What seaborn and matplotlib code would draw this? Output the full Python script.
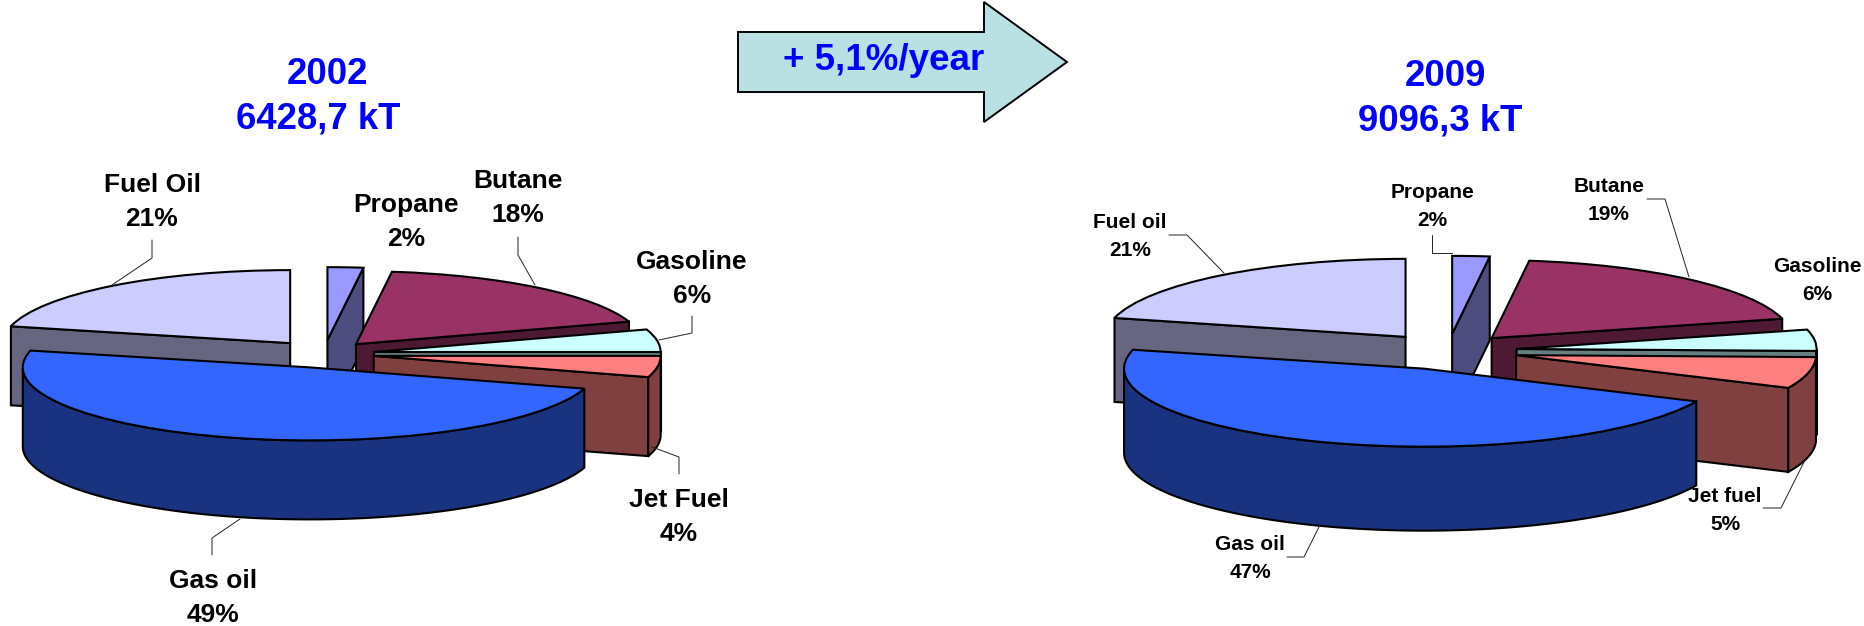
import numpy as np
import matplotlib
matplotlib.use("Agg")
import matplotlib.pyplot as plt
from matplotlib.patches import FancyArrow
import seaborn as sns

# slices, clockwise from 12 o'clock (sizes as drawn in the picture)
fuels = ["Propane", "Butane", "Gasoline", "Jet Fuel", "Gas oil", "Fuel Oil"]
shares_2002 = [2.0, 18.0, 5.0, 4.7, 49.0, 21.3]
shares_2009 = [2.0, 19.0, 4.4, 6.5, 47.0, 21.1]

# printed labels
pct_2002 = ["2%", "18%", "6%", "4%", "49%", "21%"]
pct_2009 = ["2%", "19%", "6%", "5%", "47%", "21%"]
names_2009 = ["Propane", "Butane", "Gasoline", "Jet fuel", "Gas oil", "Fuel oil"]

title_2002 = ["2002", "6428,7 kT"]
title_2009 = ["2009", "9096,3 kT"]
growth_text = "+ 5,1%/year"

top_colors = ["#9999FF", "#993366", "#CCFFFF", "#FF8080", "#3366FF", "#CCCCFF"]
side_colors = ["#4D4D80", "#4D1933", "#668080", "#804040", "#1A3380", "#666680"]

# painting order, back to front
draw_rank = [1, 2, 3, 4, 5, 0]

W, H = 1865, 626
BLUE = "#0000FF"

sns.set_theme(style="white")
plt.rcParams["font.family"] = ["Liberation Sans", "DejaVu Sans"]

fig = plt.figure(figsize=(W / 100, H / 100), dpi=100)


def pie_3d(shares, explode, cx, cy, a, b, depth):
    # axes where one data unit is a px across and b px up
    left, top = cx - 1.4 * a, cy - 1.4 * b
    height = 2.8 * b + depth
    ax = fig.add_axes([left / W, 1 - (top + height) / H, 2.8 * a / W, height / H])
    wedges, _ = ax.pie(
        shares,
        explode=explode,
        colors=sns.color_palette(top_colors),
        startangle=90,
        counterclock=False,
        wedgeprops={"edgecolor": "black", "linewidth": 1.5},
    )
    ax.set_aspect("auto")
    ax.set_xlim(-1.4, 1.4)
    ax.set_ylim(-1.4 - depth / b, 1.4)
    drop = depth / b

    for w, side, rank in zip(wedges, side_colors, draw_rank):
        w.set_zorder(2 * rank + 1)
        x0, y0 = w.center
        style = dict(facecolor=side, edgecolor="black", linewidth=1.5, zorder=2 * rank)

        # cut faces that look towards the viewer
        for theta, visible in [
            (w.theta1, np.cos(np.radians(w.theta1)) > 1e-6),
            (w.theta2, np.cos(np.radians(w.theta2)) < -1e-6),
        ]:
            if visible:
                xe = x0 + np.cos(np.radians(theta))
                ye = y0 + np.sin(np.radians(theta))
                ax.fill([x0, xe, xe, x0], [y0, ye, ye - drop, y0 - drop], **style)

        # outer rim, front half only
        t = np.radians(np.linspace(w.theta1, w.theta2, 200))
        t = t[np.sin(t) < 0]
        if len(t) > 1:
            xs = x0 + np.cos(t)
            ys = y0 + np.sin(t)
            ax.fill(
                np.r_[xs, xs[::-1]],
                np.r_[ys, ys[::-1] - drop],
                **style,
            )
    return ax


pie_3d(shares_2002, [0.19, 0.175, 0.175, 0.175, 0.19, 0.19], 324, 354, 287, 73, 79)
pie_3d(shares_2009, [0.22, 0.22, 0.23, 0.233, 0.24, 0.23], 1448, 351, 300, 78, 84)

# overlay in picture pixels for the text, leaders and the arrow
ov = fig.add_axes([0, 0, 1, 1], zorder=20)
ov.set_xlim(0, W)
ov.set_ylim(H, 0)
ov.axis("off")

ov.add_patch(
    FancyArrow(
        738, 62, 329, 0, width=60, head_width=120, head_length=83,
        length_includes_head=True, facecolor="#B9E0E3", edgecolor="black", linewidth=1.4,
    )
)
ov.text(884, 61, growth_text, color=BLUE, fontsize=26.5, fontweight="bold", ha="center", va="center")

# year and tonnage lines sit apart, the second one is off centre in the picture
title_style = dict(color=BLUE, fontsize=26.3, fontweight="bold", ha="center", va="baseline")
ov.text(328, 84, title_2002[0], **title_style)
ov.text(318, 129, title_2002[1], **title_style)
ov.text(1445, 86, title_2009[0], **title_style)
ov.text(1440.5, 131, title_2009[1], **title_style)

label_pos_2002 = [(406, 222), (518, 198), (692, 279), (679, 517), (213, 598), (152, 202)]
label_pos_2009 = [(1432, 206), (1609, 201), (1817, 281), (1725, 511), (1250, 558), (1130, 236)]

for name, pct, (x, y) in zip(fuels, pct_2002, label_pos_2002):
    ov.text(x, y, name + "\n" + pct, fontsize=19, fontweight="bold", color="black",
            ha="center", va="center", linespacing=1.55)
for name, pct, (x, y) in zip(names_2009, pct_2009, label_pos_2009):
    ov.text(x, y, name + "\n" + pct, fontsize=15, fontweight="bold", color="black",
            ha="center", va="center", linespacing=1.6)

leaders = [
    [(152, 240), (152, 258), (112, 285)],
    [(518, 237), (518, 255), (535, 285)],
    [(692, 316), (692, 333), (659, 340)],
    [(679, 474), (679, 457), (652, 447)],
    [(212, 555), (212, 538), (240, 519)],
    [(1169, 235), (1187, 235), (1224, 273)],
    [(1431.5, 235), (1431.5, 253), (1451.5, 253)],
    [(1647, 199), (1665, 199), (1689, 277)],
    [(1763, 508), (1781, 508), (1806, 458)],
    [(1287, 557), (1304, 557), (1320, 525)],
]
for pts in leaders:
    xs, ys = zip(*pts)
    ov.plot(xs, ys, color="#222222", linewidth=0.7)

fig.savefig("out.png", dpi=100)
